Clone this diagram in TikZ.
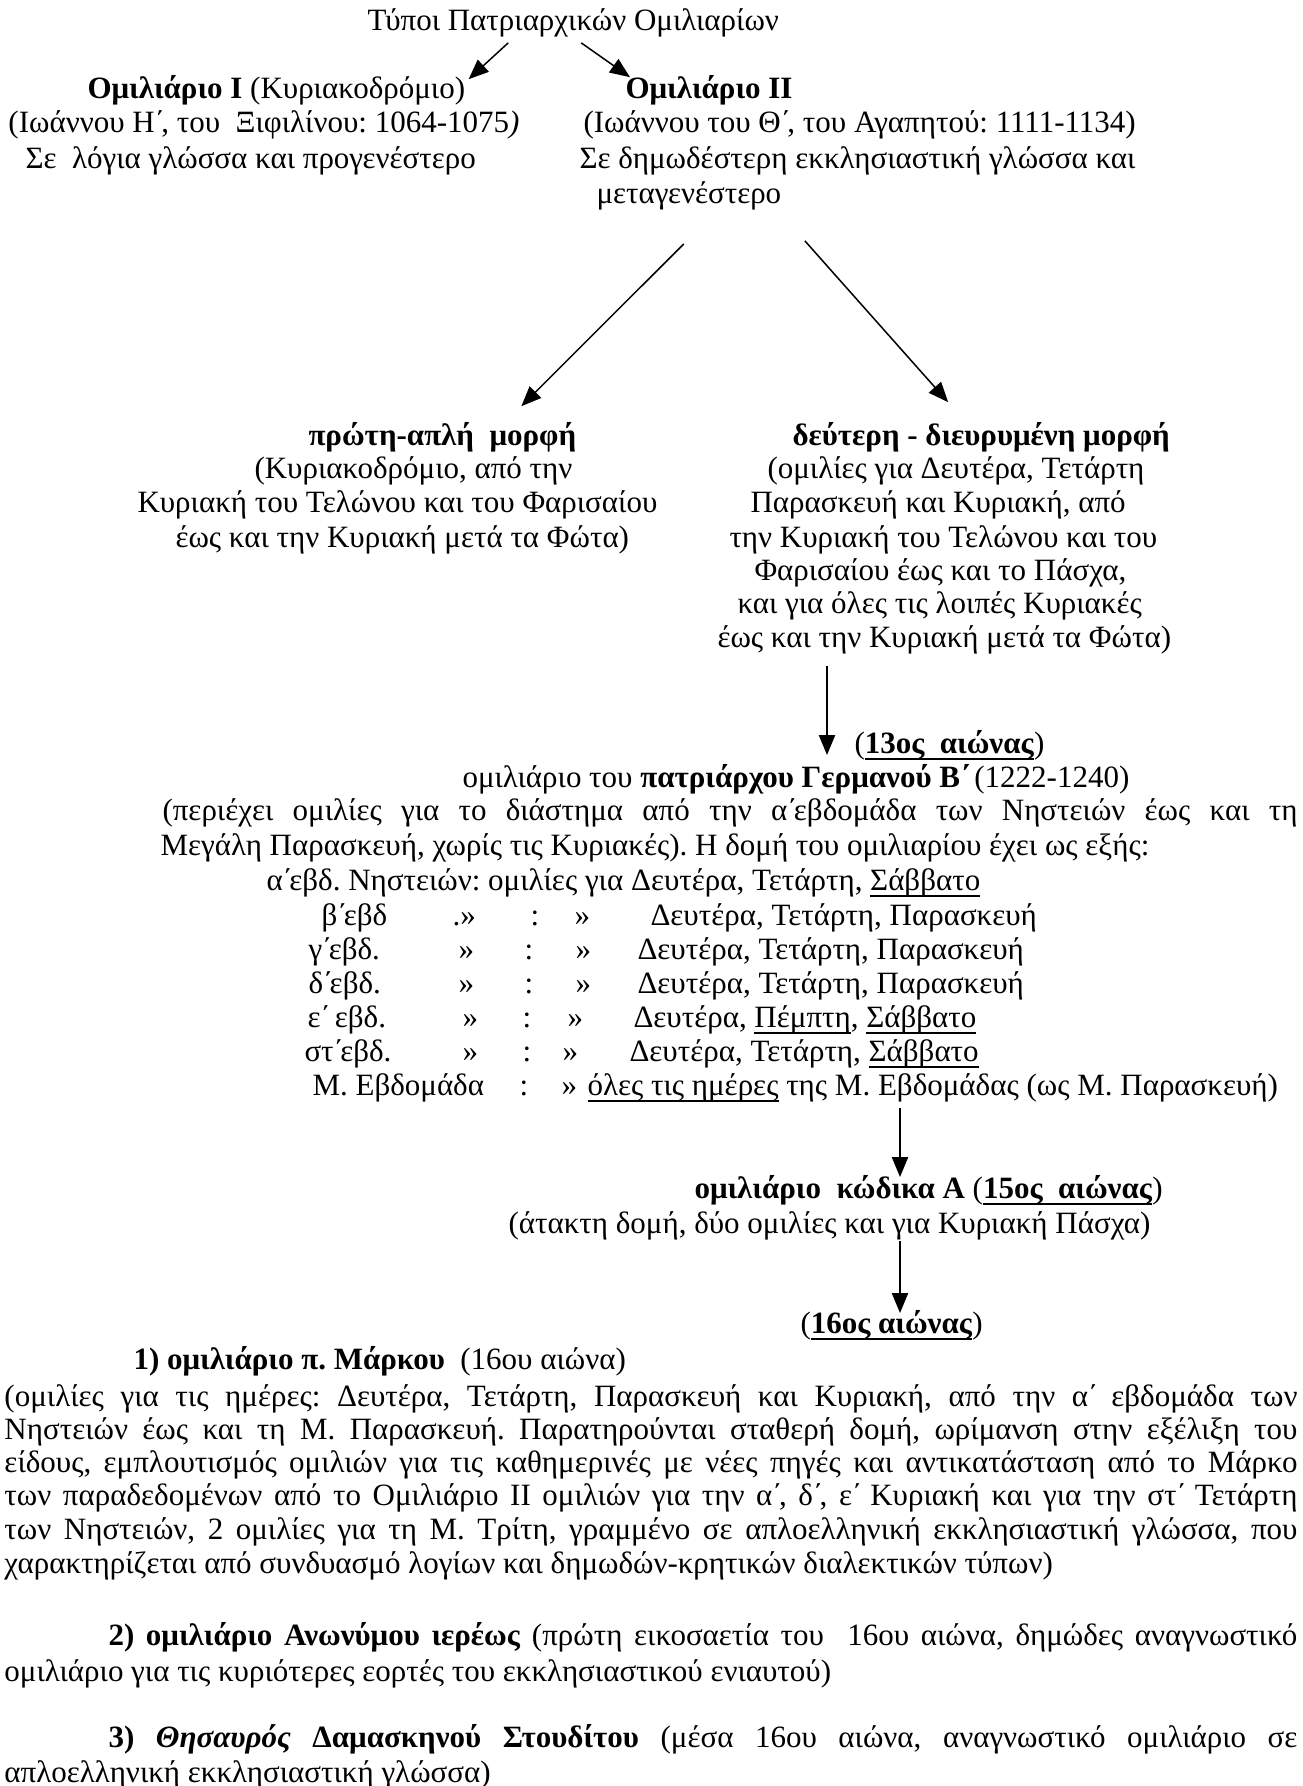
\documentclass[tikz,border=0pt]{standalone}
\usepackage{fontspec}
\setmainfont{Liberation Serif}
\usetikzlibrary{arrows.meta,calc}

\newlength\pxu \setlength\pxu{0.4pt}
\newcommand\jline[2]{\makebox[#1\pxu][s]{#2}}
\newsavebox\ulbox
\newcommand\undl[1]{\sbox\ulbox{#1}\rlap{\rule[-2.4pt]{\wd\ulbox}{0.8pt}}\usebox\ulbox}
\newcommand\tn{΄\kern-.12em}
\frenchspacing

\begin{document}
\begin{tikzpicture}[
    x=0.4pt, y=-0.4pt,
    txt/.style = {anchor=mid west, inner sep=0pt, font=\fontsize{12.4}{14}\selectfont},
    arr/.style = {-{Triangle[length=8pt,width=6.5pt]}, line width=0.6pt},
    ]
    \useasboundingbox (0,0) rectangle (1303,1786);

    % types of homiliaries
    \node[txt] (title) at (367,25) {Τύποι Πατριαρχικών Ομιλιαρίων};
    \node[txt] (om1a) at (87,93) {\textbf{Ομιλιάριο I} (Κυριακοδρόμιο)};
    \node[txt] (om1b) at (8,127) {(Ιωάννου Η\tn, του~ Ξιφιλίνου: 1064-1075\textit{)}};
    \node[txt] (om1c) at (25,163) {Σε~ λόγια γλώσσα και προγενέστερο};
    \node[txt] (om2a) at (625,93) {\textbf{Ομιλιάριο II}};
    \node[txt] (om2b) at (583,127) {(Ιωάννου του Θ\tn, του Αγαπητού: 1111-1134)};
    \node[txt] (om2c) at (579,163) {Σε δημωδέστερη εκκλησιαστική γλώσσα και};
    \node[txt] (om2d) at (596,198) {μεταγενέστερο};

    % the two forms
    \foreach \xx/\yy/\t [count=\i] in {
        308/440/{\textbf{πρώτη-απλή~ μορφή}},
        254/473/{(Κυριακοδρόμιο, από την},
        137/507/{Κυριακή του Τελώνου και του Φαρισαίου},
        175/542/{έως και την Κυριακή μετά τα Φώτα)}}
      \node[txt] (f1-\i) at (\xx,\yy) {\t};
    \foreach \xx/\yy/\t [count=\i] in {
        792/440/{\textbf{δεύτερη - διευρυμένη μορφή}},
        767/473/{(ομιλίες για Δευτέρα, Τετάρτη},
        750/507/{Παρασκευή και Κυριακή, από},
        729/542/{την Κυριακή του Τελώνου και του},
        754/575/{Φαρισαίου έως και το Πάσχα,},
        737/608/{και για όλες τις λοιπές Κυριακές},
        717/642/{έως και την Κυριακή μετά τα Φώτα)}}
      \node[txt] (f2-\i) at (\xx,\yy) {\t};

    % Germanos
    \node[txt] (c13) at (854,748) {(\undl{\textbf{13ος~ αιώνας}})};
    \node[txt] (germ) at (462,782) {ομιλιάριο του \textbf{πατριάρχου Γερμανού Β\tn} (1222-1240)};
    \node[txt] (gp1) at (162,815) {\jline{1135}{(περιέχει ομιλίες για το διάστημα από την α\tn εβδομάδα των Νηστειών έως και τη}};
    \node[txt] (gp2) at (160,850) {Μεγάλη Παρασκευή, χωρίς τις Κυριακές). Η δομή του ομιλιαρίου έχει ως εξής:};
    \node[txt] (wk1) at (266,885) {α\tn εβδ. Νηστειών: ομιλίες για Δευτέρα, Τετάρτη, \undl{Σάββατο}};
    \foreach \nm/\yy/\lx/\lab/\ax/\dit/\cx/\bx/\dx/\days in {
        b/920/321/{β\tn εβδ}/452/{.»}/530/574/650/{Δευτέρα, Τετάρτη, Παρασκευή},
        g/954/308/{γ\tn εβδ.}/458/{»}/524/575/637/{Δευτέρα, Τετάρτη, Παρασκευή},
        d/988/308/{δ\tn εβδ.}/458/{»}/524/575/637/{Δευτέρα, Τετάρτη, Παρασκευή},
        e/1022/307/{ε\tn\ εβδ.}/462/{»}/522/567/633/{Δευτέρα, \undl{Πέμπτη}, \undl{Σάββατο}},
        s/1056/304/{στ\tn εβδ.}/462/{»}/522/562/629/{Δευτέρα, Τετάρτη, \undl{Σάββατο}}} {
      \node[txt] (wk-\nm) at (\lx,\yy) {\lab};
      \node[txt] (wk-\nm-a) at (\ax,\yy) {\dit};
      \node[txt] (wk-\nm-c) at (\cx,\yy) {:};
      \node[txt] (wk-\nm-b) at (\bx,\yy) {»};
      \node[txt] (wk-\nm-d) at (\dx,\yy) {\days};
    }
    \node[txt] (wk-m) at (312,1090) {Μ. Εβδομάδα};
    \node[txt] (wk-m-c) at (519,1090) {:};
    \node[txt] (wk-m-b) at (561,1090) {»};
    \node[txt] (wk-m-d) at (587,1090) {\undl{όλες τις ημέρες} της Μ. Εβδομάδας (ως Μ. Παρασκευή)};

    % codex A
    \node[txt] (kA) at (694,1193) {\textbf{ομιλιάριο~ κώδικα Α} (\undl{\textbf{15ος~ αιώνας}})};
    \node[txt] (kAd) at (508,1228) {(άτακτη δομή, δύο ομιλίες και για Κυριακή Πάσχα)};
    \node[txt] (c16) at (800,1328) {(\undl{\textbf{16ος αιώνας}})};

    % 16th century
    \node[txt] (mk) at (133,1364) {\textbf{1) ομιλιάριο π. Μάρκου}~ (16ου αιώνα)};
    \foreach \yy/\t [count=\i] in {
        1401/{(ομιλίες για τις ημέρες: Δευτέρα, Τετάρτη, Παρασκευή και Κυριακή, από την α\tn\ εβδομάδα των},
        1434/{Νηστειών έως και τη Μ. Παρασκευή. Παρατηρούνται σταθερή δομή, ωρίμανση στην εξέλιξη του},
        1467/{είδους, εμπλουτισμός ομιλιών για τις καθημερινές με νέες πηγές και αντικατάσταση από το Μάρκο},
        1500/{των παραδεδομένων από το Ομιλιάριο ΙΙ ομιλιών για την α\tn, δ\tn, ε\tn\ Κυριακή και για την στ\tn\ Τετάρτη},
        1534/{των Νηστειών, 2 ομιλίες για τη Μ. Τρίτη, γραμμένο σε απλοελληνική εκκλησιαστική γλώσσα, που}}
      \node[txt] (mk-\i) at (4,\yy) {\jline{1293}{\t}};
    \node[txt] (mk-6) at (4,1568) {χαρακτηρίζεται από συνδυασμό λογίων και δημωδών-κρητικών διαλεκτικών τύπων)};

    \node[txt] (an) at (108,1640) {\jline{1189}{\textbf{2) ομιλιάριο Ανωνύμου ιερέως} (πρώτη εικοσαετία του~ 16ου αιώνα, δημώδες αναγνωστικό}};
    \node[txt] (an-2) at (4,1676) {ομιλιάριο για τις κυριότερες εορτές του εκκλησιαστικού ενιαυτού)};
    \node[txt] (th) at (108,1742) {\jline{1189}{\textbf{3) \textit{Θησαυρός} Δαμασκηνού Στουδίτου} (μέσα 16ου αιώνα, αναγνωστικό ομιλιάριο σε}};
    \node[txt] (th-2) at (4,1777) {απλοελληνική εκκλησιαστική γλώσσα)};

    % arrows
    \draw[arr] ($(title.south)+(-65,5)$) -- ($(om1a.north east)+(3,4)$);
    \draw[arr] ($(title.south)+(8,5)$) -- ($(om2a.north west)+(5,2)$);
    \coordinate (s1) at ($(om2d.south)+(-5,33)$);
    \coordinate (s2) at ($(om2d.south)+(116,30)$);
    \draw[arr] (s1) -- ($(f1-1.north)+(79,-16)$);
    \draw[arr] (s2) -- ($(f2-1.north)+(-33,-20)$);
    \draw[arr] ($(c13.mid west)+(-27,-82)$) -- ($(c13.mid west)+(-27,7)$);
    \draw[arr] ($(kA.mid west)+(206,-85)$) -- ($(kA.mid west)+(206,-16)$);
    \draw[arr] ($(c16.mid west)+(100,-87)$) -- ($(c16.mid west)+(100,-15)$);
\end{tikzpicture}
\end{document}
